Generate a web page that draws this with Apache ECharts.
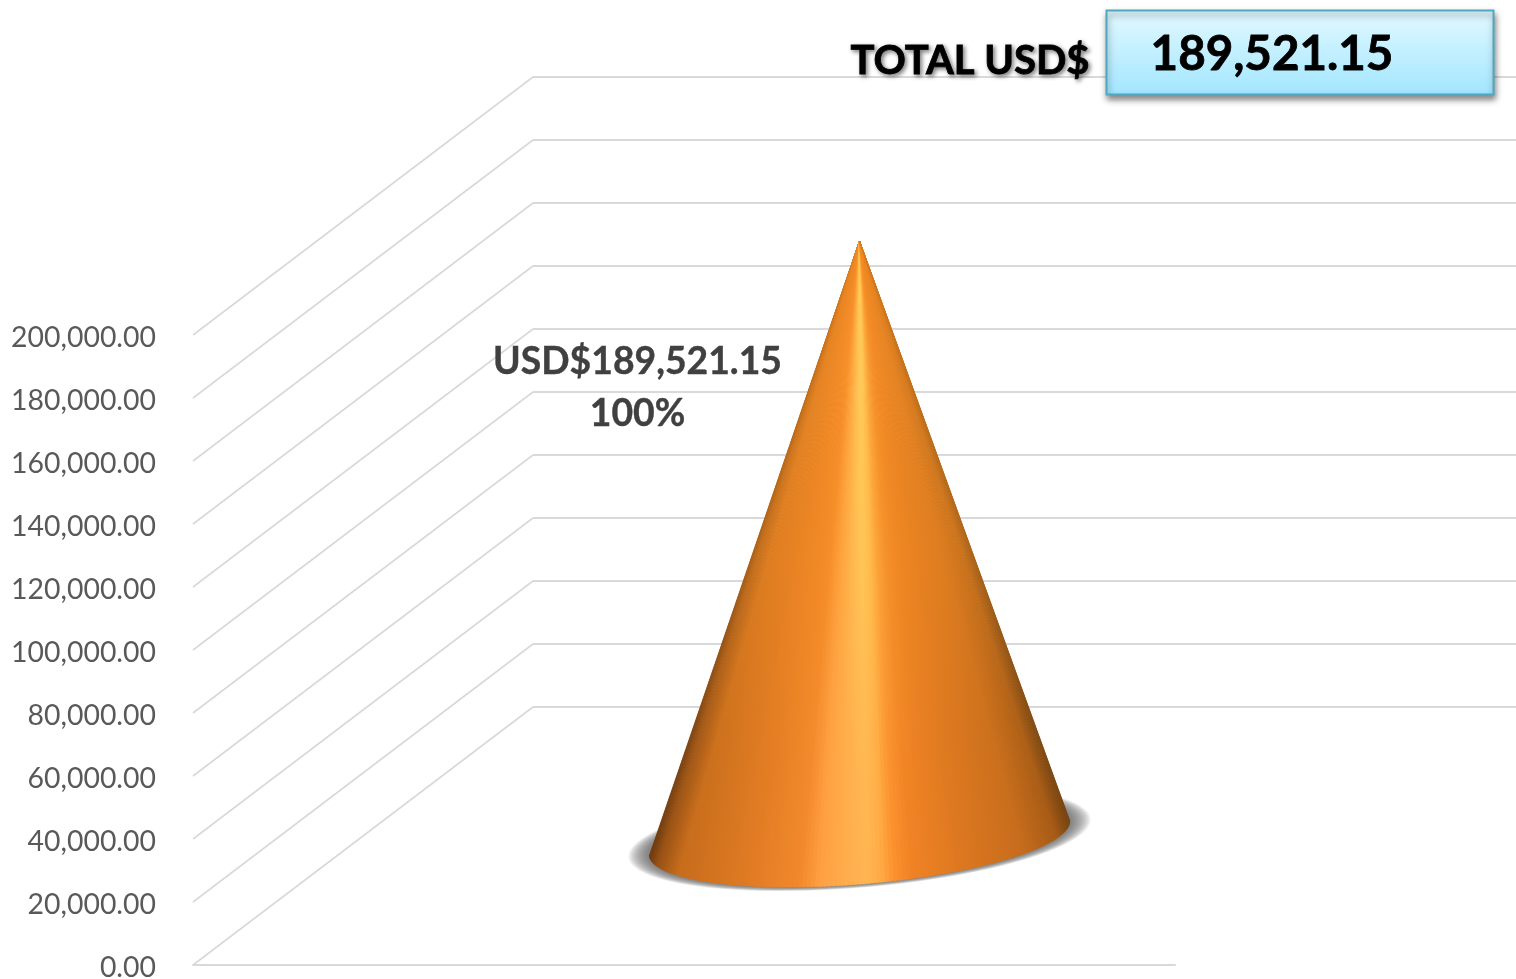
<!DOCTYPE html>
<html>
<head>
<meta charset="utf-8">
<style>html,body{margin:0;padding:0;background:#fff}#c{width:1516px;height:979px}</style>
<script src="https://cdn.jsdelivr.net/npm/echarts@6/dist/echarts.min.js"></script>
</head>
<body>
<div id="c"></div>
<script>
const categories = ['Total'];
const seriesValues = [189521.15];
const sharePercent = [100];
const axisTicks = [0, 20000, 40000, 60000, 80000, 100000, 120000, 140000, 160000, 180000, 200000];
const totalLabel = 'TOTAL USD$';
const currencyPrefix = 'USD$';

const FONT = 'Lato';
const fmt = v => v.toLocaleString('en-US', {minimumFractionDigits: 2, maximumFractionDigits: 2});

// horizontal light/dark ramp of the cone surface
const ramp = [
  [0, [104, 54, 12]], [.02, [150, 80, 20]], [.07, [198, 108, 28]], [.25, [226, 124, 36]],
  [.36, [242, 136, 44]], [.41, [255, 160, 68]], [.47, [255, 172, 76]], [.52, [255, 181, 83]],
  [.555, [255, 170, 68]], [.585, [251, 144, 46]], [.63, [240, 130, 36]], [.76, [218, 118, 31]],
  [.89, [198, 108, 28]], [.97, [165, 90, 21]], [1, [116, 66, 16]]
];
function rampAt(s) {
  for (let i = 1; i < ramp.length; i++) {
    if (s <= ramp[i][0]) {
      const a = ramp[i - 1], b = ramp[i], t = (s - a[0]) / (b[0] - a[0]);
      return a[1].map((c, k) => c + (b[1][k] - c) * t);
    }
  }
  return ramp[ramp.length - 1][1];
}
const css = c => 'rgb(' + c.map(Math.round).join(',') + ')';
const mix = (c, d, t) => c.map((v, k) => v + (d[k] - v) * t);

function renderCone(params, api) {
  const v = api.value(1);
  const base = api.coord([api.value(0), 0]);
  const apex = api.coord([api.value(0), v]);
  const band = api.size([1, 0])[0];
  const a = band * 0.2145, b = a * 0.218, th = 4.76 * Math.PI / 180;
  const ux = Math.cos(th), uy = -Math.sin(th), vx = Math.sin(th), vy = Math.cos(th);
  const pt = (phi, ra, rb) => [
    base[0] + ra * Math.cos(phi) * ux + rb * Math.sin(phi) * vx,
    base[1] + ra * Math.cos(phi) * uy + rb * Math.sin(phi) * vy
  ];
  const children = [];
  // soft contact shadow built from nested translucent ellipses
  const rings = 18;
  for (let r = 0; r < rings; r++) {
    const f = r / (rings - 1);
    const sh = [];
    for (let i = 0; i < 90; i++) sh.push(pt(i / 90 * 2 * Math.PI, a * (1.1 - 0.1 * f), b * (1.08 - 0.08 * f)));
    children.push({type: 'polygon', shape: {points: sh}, style: {fill: 'rgba(90,90,90,0.075)'}});
  }
  const N = 150;
  for (let i = 0; i < N; i++) {
    const p0 = pt(Math.PI - Math.PI * i / N, a, b);
    const p1 = pt(Math.PI - Math.PI * (i + 1.4) / N, a, b);
    const s = Math.min(1, Math.max(0, ((p0[0] + p1[0]) / 2 - (base[0] - a)) / (2 * a)));
    const c = rampAt(s);
    const w = Math.exp(-Math.pow((s - 0.52) / 0.095, 2));
    const target = mix([250, 145, 36], [255, 215, 90], w);
    const g = new echarts.graphic.LinearGradient(0, 0, 0, 1, [
      {offset: 0, color: css(mix(c, target, 0.7))},
      {offset: 0.5, color: css(mix(c, target, 0.45))},
      {offset: 0.8, color: css(mix(c, target, 0.12))},
      {offset: 1, color: css(c)}
    ]);
    children.push({
      type: 'polygon',
      shape: {points: [[apex[0], apex[1]], p0, p1]},
      style: {fill: g, stroke: g, lineWidth: 0.5}
    });
  }
  children.push({
    type: 'text',
    style: {
      x: apex[0] - 222, y: apex[1] + 147, align: 'center', verticalAlign: 'middle',
      text: currencyPrefix + fmt(v) + '\n' + sharePercent[params.dataIndex] + '%',
      font: 'bold 37.3px ' + FONT, fill: '#404040', lineHeight: 52,
      stroke: '#404040', lineWidth: 0.4
    }
  });
  return {type: 'group', children};
}

// wall depth expressed in value units of the front axis
const depthValue = 81905;
const depthX = 0.3462;
function renderSideLine(params, api) {
  const v = api.value(0);
  const p0 = api.coord([0, v]);
  const p1 = api.coord([depthX, v + depthValue]);
  return {
    type: 'line',
    shape: {x1: p0[0], y1: p0[1], x2: p1[0], y2: p1[1]},
    style: {stroke: '#d9d9d9', lineWidth: 1.6}
  };
}

const chart = echarts.init(document.getElementById('c'), null, {renderer: 'canvas'});
chart.setOption({
  animation: false,
  backgroundColor: '#ffffff',
  grid: [
    {left: 193, width: 982, top: 335, height: 630, outerBoundsMode: 'none'},
    {left: 533, width: 983, top: 77, height: 630, outerBoundsMode: 'none'},
    {left: 368, width: 983, top: 208, height: 630, outerBoundsMode: 'none'},
    {left: 193, width: 982, top: 337.5, height: 630, outerBoundsMode: 'none'}
  ],
  xAxis: [
    {gridIndex: 0, type: 'value', min: 0, max: 1, axisLabel: {show: false}, axisTick: {show: false},
     splitLine: {show: false}, axisLine: {show: true, lineStyle: {color: '#d9d9d9', width: 2}}},
    {gridIndex: 1, type: 'category', data: categories, show: false},
    {gridIndex: 2, type: 'category', data: categories, show: false},
    {gridIndex: 3, type: 'category', data: categories, show: false}
  ],
  yAxis: [
    {gridIndex: 0, type: 'value', min: 0, max: 200000, interval: 20000, show: false},
    {gridIndex: 1, type: 'value', min: 0, max: 200000, interval: 20000,
     axisLine: {show: false}, axisTick: {show: false}, axisLabel: {show: false},
     splitLine: {show: true, lineStyle: {color: '#d9d9d9', width: 2}}},
    {gridIndex: 2, type: 'value', min: 0, max: 200000, interval: 20000, show: false},
    {gridIndex: 3, type: 'value', min: 0, max: 200000, interval: 20000,
     axisLine: {show: false}, axisTick: {show: false}, splitLine: {show: false},
     axisLabel: {margin: 37, color: '#595959', fontFamily: FONT, fontSize: 28.4, formatter: v => fmt(v)}}
  ],
  series: [
    {type: 'custom', name: 'walls', xAxisIndex: 0, yAxisIndex: 0, clip: false, z: 1,
     data: axisTicks.map(t => [t]), encode: {y: 0}, renderItem: renderSideLine, silent: true},
    {type: 'custom', name: 'Total', xAxisIndex: 2, yAxisIndex: 2, clip: false, z: 5,
     data: categories.map((c, i) => [i, seriesValues[i]]), encode: {x: 0, y: 1}, renderItem: renderCone, silent: true}
  ],
  graphic: [
    {type: 'text', z: 20, style: {
      x: 970, y: 61, align: 'center', verticalAlign: 'middle', text: totalLabel,
      font: 'bold 40px ' + FONT, fill: '#000000', stroke: '#000000', lineWidth: 0.8,
      textShadowColor: 'rgba(0,0,0,0.5)', textShadowBlur: 4, textShadowOffsetX: 2, textShadowOffsetY: 2
    }},
    {type: 'rect', z: 21, shape: {x: 1106.5, y: 10.5, width: 387, height: 84},
     style: {
       fill: new echarts.graphic.LinearGradient(0, 0, 0, 1, [
         {offset: 0, color: '#e3f9ff'}, {offset: 1, color: '#a2e6ff'}
       ]),
       stroke: '#4fa8c2', lineWidth: 2,
       shadowBlur: 6, shadowOffsetX: 1, shadowOffsetY: 4, shadowColor: 'rgba(0,0,0,0.45)'
     }},
    {type: 'text', z: 22, style: {
      x: 1272, y: 55, align: 'center', verticalAlign: 'middle', text: fmt(seriesValues[0]),
      font: 'bold 47.5px ' + FONT, fill: '#000000', stroke: '#000000', lineWidth: 0.8
    }}
  ]
});
</script>
</body>
</html>
